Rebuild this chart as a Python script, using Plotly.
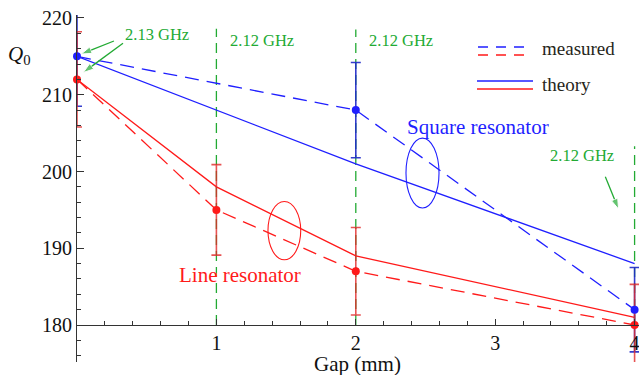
import plotly.graph_objects as go

# Q0 versus coupling gap for the two resonator geometries
gap_theory = [0, 1, 2, 4]
theory_square = [215, 208, 201, 188]
theory_line = [212, 198, 189, 181]

gap_square_meas = [0, 2, 4]
square_meas = [215, 208, 182]
square_err = [6.5, 6.2, 5.5]

gap_line_meas = [0, 1, 2, 4]
line_meas = [212, 195, 187, 180]
line_err = [6.2, 5.9, 5.7, 5.3]

# resonance frequency markers (gap, top of dashed guide, label)
freq_gap = [1, 2, 4]
freq_top = [218.6, 218.5, 203.3]
freq_label = ["2.12 GHz", "2.12 GHz", "2.12 GHz"]

x_ticks = [1, 2, 3, 4]

XR = [0, 4.0316]
YR = [175.18, 220.39]

BLUE = "#1f1fff"
RED = "#ff1a1a"
GREEN = "#22aa33"
FONT = "Liberation Serif"
TXT = "#26261a"

fig = go.Figure()

fig.add_trace(go.Scatter(x=gap_theory, y=theory_square, mode="lines",
                         line=dict(color=BLUE, width=1.3), showlegend=False))
fig.add_trace(go.Scatter(x=gap_theory, y=theory_line, mode="lines",
                         line=dict(color=RED, width=1.3), showlegend=False))

fig.add_trace(go.Scatter(x=gap_square_meas, y=square_meas, mode="lines",
                         line=dict(color=BLUE, width=1.3, dash="14px,8px"),
                         error_y=dict(type="data", array=square_err, color="rgba(30,40,200,0.9)",
                                      thickness=1.6, width=5),
                         showlegend=False))
fig.add_trace(go.Scatter(x=gap_line_meas, y=line_meas, mode="lines",
                         line=dict(color=RED, width=1.3, dash="14px,8px"),
                         error_y=dict(type="data", array=line_err, color="rgba(225,40,40,0.8)",
                                      thickness=1.6, width=5),
                         showlegend=False))

# measured points drawn unclipped so they show fully on the axes
fig.add_trace(go.Scatter(x=gap_square_meas, y=square_meas, mode="markers",
                         marker=dict(color=BLUE, size=8), cliponaxis=False, showlegend=False))
fig.add_trace(go.Scatter(x=gap_line_meas, y=line_meas, mode="markers",
                         marker=dict(color=RED, size=8), cliponaxis=False, showlegend=False))

# pointer arrows from the frequency labels (tail -> head)
arrows = [((0.265, 217.0), (0.03, 215.3)),
          ((0.33, 216.7), (0.045, 212.9)),
          ((3.79, 199.3), (3.885, 195.1))]
for (tx, ty), (hx, hy) in arrows:
    fig.add_trace(go.Scatter(x=[tx, hx], y=[ty, hy], mode="lines+markers",
                             line=dict(color=GREEN, width=1.3),
                             marker=dict(symbol="arrow", angleref="previous", size=[0, 11],
                                         color=GREEN),
                             cliponaxis=False, showlegend=False, hoverinfo="skip"))

shapes = []
annotations = []

for g, top in zip(freq_gap, freq_top):
    shapes.append(dict(type="line", xref="x", yref="y", x0=g, x1=g, y0=180, y1=top,
                       line=dict(color=GREEN, width=1.3, dash="10px,6px"), layer="below"))

lab_font = dict(family=FONT, size=16.5, color=GREEN)
annotations += [
    dict(x=1.08, y=217.1, xref="x", yref="y", text=freq_label[0], showarrow=False,
         xanchor="left", yanchor="middle", font=lab_font),
    dict(x=2.08, y=217.1, xref="x", yref="y", text=freq_label[1], showarrow=False,
         xanchor="left", yanchor="middle", font=lab_font),
    dict(x=3.376, y=202.1, xref="x", yref="y", text=freq_label[2], showarrow=False,
         xanchor="left", yanchor="middle", font=lab_font),
    dict(x=0.33, y=217.8, xref="x", yref="y", text="2.13 GHz", showarrow=False,
         xanchor="left", yanchor="middle", font=lab_font),
]

# ellipses marking each group of curves
shapes.append(dict(type="circle", xref="x", yref="y", x0=1.37, x1=1.605, y0=188.5, y1=196.1,
                   line=dict(color=RED, width=1.1)))
shapes.append(dict(type="circle", xref="x", yref="y", x0=2.36, x1=2.597, y0=195.25, y1=204.35,
                   line=dict(color=BLUE, width=1.1)))

annotations += [
    dict(x=2.876, y=205.8, xref="x", yref="y", text="Square resonator", showarrow=False,
         font=dict(family=FONT, size=21, color=BLUE)),
    dict(x=1.169, y=186.5, xref="x", yref="y", text="Line resonator", showarrow=False,
         font=dict(family=FONT, size=21, color=RED)),
]

# key for line styles
for yy, col, dash in [(47, BLUE, "10px,8px"), (55, RED, "10px,8px"),
                      (81, BLUE, "solid"), (89, RED, "solid")]:
    x0 = 478 if dash != "solid" else 477
    x1 = 527 if dash != "solid" else 533
    shapes.append(dict(type="line", xref="paper", yref="paper",
                       x0=(x0 - 77) / 562, x1=(x1 - 77) / 562,
                       y0=(362 - yy) / 347, y1=(362 - yy) / 347,
                       line=dict(color=col, width=1.3, dash=dash)))
annotations += [
    dict(x=(540 - 77) / 562, y=(362 - 48) / 347, xref="paper", yref="paper", text="measured",
         showarrow=False, xanchor="left", yanchor="middle",
         font=dict(family=FONT, size=19, color=TXT)),
    dict(x=(540 - 77) / 562, y=(362 - 84) / 347, xref="paper", yref="paper", text="theory",
         showarrow=False, xanchor="left", yanchor="middle",
         font=dict(family=FONT, size=19, color=TXT)),
    dict(x=(20 - 77) / 562, y=(362 - 55) / 347, xref="paper", yref="paper",
         text="<i>Q</i><sub>0</sub>", showarrow=False, xanchor="center", yanchor="middle",
         font=dict(family=FONT, size=21, color="#111111")),
    dict(x=0.5 - 1 / 562, y=(362 - 364) / 347, xref="paper", yref="paper", text="Gap (mm)",
         showarrow=False, xanchor="center", yanchor="middle",
         font=dict(family=FONT, size=21, color="#111111")),
]

x_pos = (180 - YR[0]) / (YR[1] - YR[0])

fig.update_layout(
    width=639, height=375,
    margin=dict(l=77, r=0, t=15, b=13),
    paper_bgcolor="white", plot_bgcolor="white",
    showlegend=False,
    shapes=shapes, annotations=annotations,
    xaxis=dict(range=XR, anchor="free", position=x_pos, showgrid=False, zeroline=False,
               showline=True, linecolor="#333333", linewidth=1.2,
               tickmode="array", tickvals=x_ticks, ticklabeloverflow="allow",
               ticks="inside", ticklen=6, tickcolor="#333333", tickwidth=1,
               minor=dict(tickmode="linear", tick0=0, dtick=0.2, ticks="inside", ticklen=4,
                          tickcolor="#333333", tickwidth=1, showgrid=False),
               tickfont=dict(family=FONT, size=20, color="#111111"), automargin=False),
    yaxis=dict(range=YR, showgrid=False, zeroline=False,
               showline=True, linecolor="#333333", linewidth=1.2,
               tickmode="linear", tick0=180, dtick=10,
               ticks="inside", ticklen=7, tickcolor="#333333", tickwidth=1,
               minor=dict(tick0=180, dtick=2, ticks="inside", ticklen=4,
                          tickcolor="#333333", tickwidth=1, showgrid=False),
               tickfont=dict(family=FONT, size=20, color="#111111"), automargin=False),
)

fig.write_html("out.html")
